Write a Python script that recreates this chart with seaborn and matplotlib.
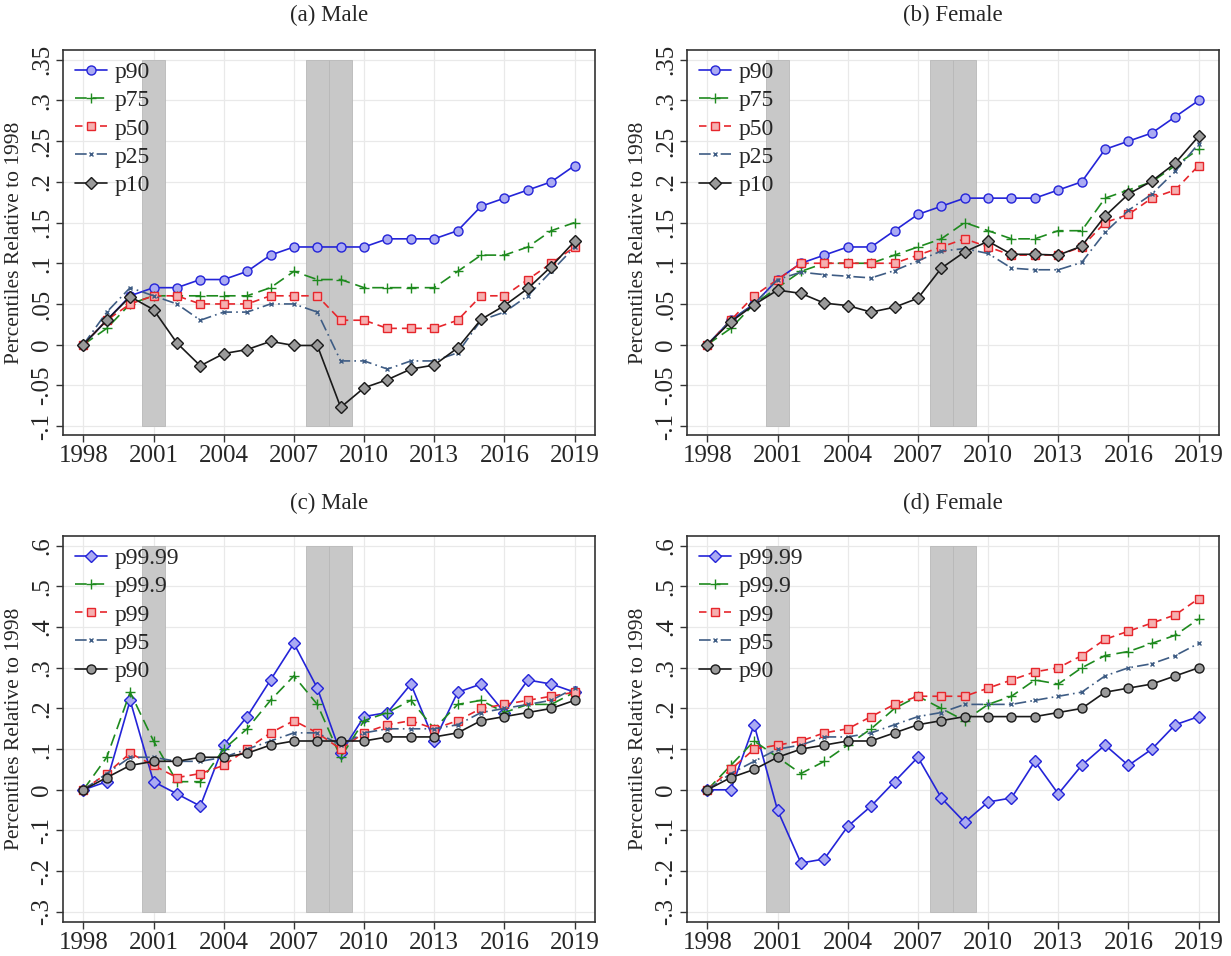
import matplotlib
matplotlib.use("Agg")
import matplotlib.pyplot as plt
import matplotlib.ticker as mticker
import seaborn as sns
import numpy as np
import pandas as pd

years = list(range(1998, 2020))

# Panel (a) Male
male_p90 = [0, .03, .06, .07, .07, .08, .08, .09, .11, .12, .12, .12, .12, .13, .13, .13, .14, .17, .18, .19, .20, .22]
male_p75 = [0, .02, .05, .06, .06, .06, .06, .06, .07, .09, .08, .08, .07, .07, .07, .07, .09, .11, .11, .12, .14, .15]
male_p50 = [0, .03, .05, .06, .06, .05, .05, .05, .06, .06, .06, .03, .03, .02, .02, .02, .03, .06, .06, .08, .10, .12]
male_p25 = [0, .04, .07, .06, .05, .03, .04, .04, .05, .05, .04, -.02, -.02, -.03, -.02, -.02, -.01, .03, .04, .06, .09, .12]
male_p10 = [0, .03, .059, .043, .002, -.026, -.011, -.006, .004, -.001, -.001, -.077, -.053, -.043, -.030, -.025, -.004, .031, .048, .069, .096, .127]

# Panel (b) Female
fem_p90 = [0, .03, .05, .08, .10, .11, .12, .12, .14, .16, .17, .18, .18, .18, .18, .19, .20, .24, .25, .26, .28, .30]
fem_p75 = [0, .02, .05, .07, .09, .10, .10, .10, .11, .12, .13, .15, .14, .13, .13, .14, .14, .18, .19, .20, .22, .24]
fem_p50 = [0, .03, .06, .08, .10, .10, .10, .10, .10, .11, .12, .13, .12, .11, .11, .11, .12, .15, .16, .18, .19, .22]
fem_p25 = [0, .03, .05, .08, .089, .086, .084, .082, .091, .103, .115, .118, .112, .094, .092, .092, .101, .138, .165, .185, .213, .247]
fem_p10 = [0, .028, .049, .067, .063, .051, .048, .040, .046, .057, .094, .114, .127, .111, .111, .110, .121, .158, .185, .201, .223, .256]

# Panel (c) Male top percentiles
male_p9999 = [0, .02, .22, .02, -.01, -.04, .11, .18, .27, .36, .25, .09, .18, .19, .26, .12, .24, .26, .19, .27, .26, .24]
male_p999 = [0, .08, .24, .12, .02, .02, .10, .15, .22, .28, .21, .08, .17, .19, .22, .15, .21, .22, .19, .21, .21, .24]
male_p99 = [0, .04, .09, .06, .03, .04, .06, .10, .14, .17, .14, .10, .14, .16, .17, .15, .17, .20, .21, .22, .23, .24]
male_p95 = [0, .04, .08, .08, .07, .07, .08, .10, .12, .14, .14, .11, .14, .15, .15, .15, .16, .19, .20, .21, .22, .25]

# Panel (d) Female top percentiles
fem_p9999 = [0, 0, .16, -.05, -.18, -.17, -.09, -.04, .02, .08, -.02, -.08, -.03, -.02, .07, -.01, .06, .11, .06, .10, .16, .18]
fem_p999 = [0, .06, .12, .08, .04, .07, .11, .15, .20, .23, .20, .17, .21, .23, .27, .26, .30, .33, .34, .36, .38, .42]
fem_p99 = [0, .05, .10, .11, .12, .14, .15, .18, .21, .23, .23, .23, .25, .27, .29, .30, .33, .37, .39, .41, .43, .47]
fem_p95 = [0, .04, .07, .10, .11, .13, .13, .14, .16, .18, .19, .21, .21, .21, .22, .23, .24, .28, .30, .31, .33, .36]

recessions = [(2000.5, 2001.5), (2007.5, 2008.5), (2008.5, 2009.5)]
xticks = [1998, 2001, 2004, 2007, 2010, 2013, 2016, 2019]
yticks_top = [-.1, -.05, 0, .05, .1, .15, .2, .25, .3, .35]
yticks_bot = [-.3, -.2, -.1, 0, .1, .2, .3, .4, .5, .6]

sns.set_theme(style="white")
plt.rcParams['font.family'] = ['Liberation Serif', 'DejaVu Serif']
plt.rcParams['mathtext.fontset'] = 'stix'

BLUE = "#2424d8"
BLUE_F = "#aaaaf2"
GREEN = "#1e8a1e"
RED = "#e6262c"
RED_F = "#f5b0b0"
SLATE = "#3e5c84"
BLACK = "#1a1a1a"
GREY_F = "#9a9a9a"

styles_top = [
    dict(color=BLUE, marker="o", ms=6.5, mfc=BLUE_F, mec=BLUE, ls="-"),
    dict(color=GREEN, marker="+", ms=7, mfc=GREEN, mec=GREEN, ls=(0, (7, 3.5))),
    dict(color=RED, marker="s", ms=6, mfc=RED_F, mec=RED, ls=(0, (4.5, 3))),
    dict(color=SLATE, marker="x", ms=3, mfc=SLATE, mec=SLATE, ls=(0, (7, 2.5, 1, 2.5))),
    dict(color=BLACK, marker="D", ms=6.5, mfc=GREY_F, mec=BLACK, ls="-"),
]
styles_bot = [
    dict(color=BLUE, marker="D", ms=6.5, mfc=BLUE_F, mec=BLUE, ls="-"),
    dict(color=GREEN, marker="+", ms=7, mfc=GREEN, mec=GREEN, ls=(0, (7, 3.5))),
    dict(color=RED, marker="s", ms=6, mfc=RED_F, mec=RED, ls=(0, (4.5, 3))),
    dict(color=SLATE, marker="x", ms=3, mfc=SLATE, mec=SLATE, ls=(0, (7, 2.5, 1, 2.5))),
    dict(color=BLACK, marker="o", ms=6.5, mfc=GREY_F, mec=BLACK, ls="-"),
]

W, H = 1231, 956
fig = plt.figure(figsize=(W / 100, H / 100), dpi=100)
fig.patch.set_facecolor("white")


def px_axes(left, top, right, bottom):
    return fig.add_axes([left / W, 1 - bottom / H, (right - left) / W, (bottom - top) / H])


def fmt(v, pos):
    if abs(v) < 1e-9:
        return "0"
    s = ("%.2f" % v).rstrip("0")
    s = s.replace("0.", ".")
    return s


def draw(ax, series, labels, styles, yticks, ylim, title, title_y):
    ymin_s, ymax_s = yticks[0], yticks[-1]
    for a, b in recessions:
        ax.fill_between([a, b], ymin_s, ymax_s, color="#c8c8c8", lw=0.6,
                        edgecolor="#b8b8b8", zorder=1)
    for vals, lab, st in zip(series, labels, styles):
        df = pd.DataFrame({"year": years, "v": vals})
        sns.lineplot(data=df, x="year", y="v", ax=ax, label=lab, color=st["color"],
                     marker=st["marker"], markersize=st["ms"], markerfacecolor=st["mfc"],
                     markeredgecolor=st["mec"], markeredgewidth=1.0, linestyle=st["ls"],
                     linewidth=1.2, zorder=3)
    ax.set_xlim(1997.13, 2019.87)
    ax.set_ylim(*ylim)
    ax.set_xticks(xticks)
    ax.set_yticks(yticks)
    ax.yaxis.set_major_formatter(mticker.FuncFormatter(fmt))
    ax.grid(True, color="#e9e9e9", lw=0.9, zorder=0)
    ax.set_axisbelow(True)
    ax.set_xlabel("")
    ax.set_ylabel("Percentiles Relative to 1998", fontsize=15.5, labelpad=5)
    ax.tick_params(axis="both", which="major", direction="out", length=5, width=1,
                   color="#333333", labelsize=18, pad=2, bottom=True, left=True)
    for lbl in ax.get_yticklabels():
        lbl.set_rotation(90)
        lbl.set_va("center")
    for sp in ax.spines.values():
        sp.set_color("#333333")
        sp.set_linewidth(1.2)
    ax.legend(loc="upper left", frameon=False, fontsize=17, handlelength=1.35,
              handletextpad=0.35, labelspacing=0.28, borderaxespad=0.1,
              bbox_to_anchor=(0.0, 1.0))
    pos = ax.get_position()
    fig.text(pos.x0 + pos.width / 2, 1 - title_y / H, title, ha="center", va="center",
             fontsize=16.5)


ax_a = px_axes(63, 50, 595, 435)
ax_b = px_axes(687, 50, 1219, 435)
ax_c = px_axes(63, 536, 595, 922)
ax_d = px_axes(687, 536, 1219, 922)

lab_top = ["p90", "p75", "p50", "p25", "p10"]
lab_bot = ["p99.99", "p99.9", "p99", "p95", "p90"]

draw(ax_a, [male_p90, male_p75, male_p50, male_p25, male_p10], lab_top, styles_top,
     yticks_top, (-0.111, 0.362), "(a) Male", 15)
draw(ax_b, [fem_p90, fem_p75, fem_p50, fem_p25, fem_p10], lab_top, styles_top,
     yticks_top, (-0.111, 0.362), "(b) Female", 15)
draw(ax_c, [male_p9999, male_p999, male_p99, male_p95, male_p90], lab_bot, styles_bot,
     yticks_bot, (-0.325, 0.624), "(c) Male", 503)
draw(ax_d, [fem_p9999, fem_p999, fem_p99, fem_p95, fem_p90], lab_bot, styles_bot,
     yticks_bot, (-0.325, 0.624), "(d) Female", 503)

fig.savefig("out.png", dpi=100, facecolor="white")
